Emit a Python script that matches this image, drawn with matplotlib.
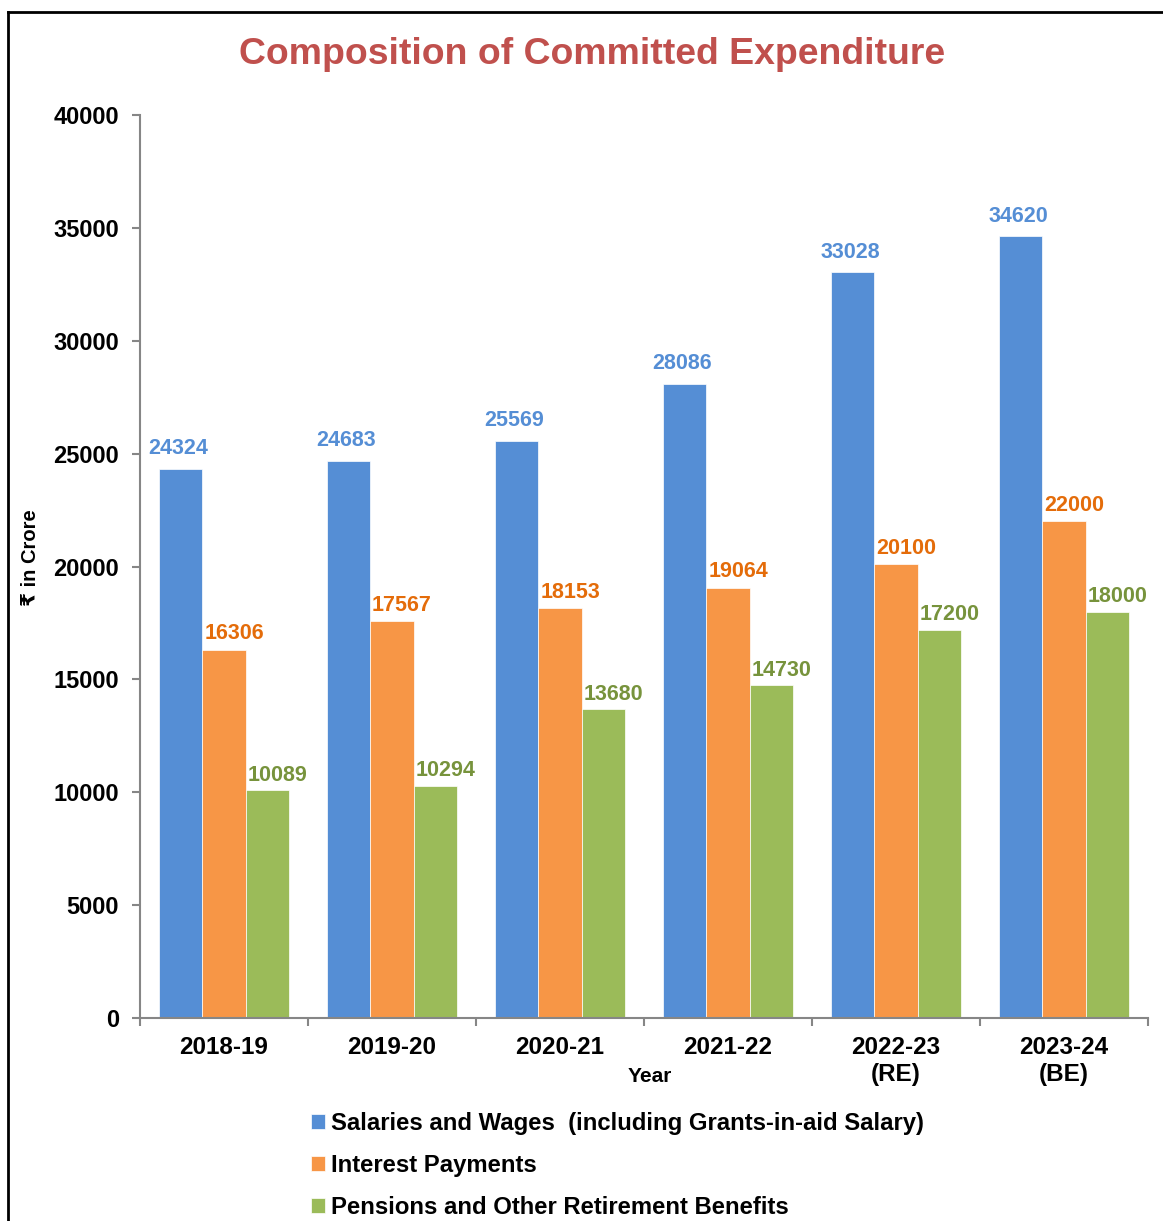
import matplotlib
matplotlib.use("Agg")
import matplotlib.pyplot as plt
import numpy as np
from matplotlib.lines import Line2D
from matplotlib.ticker import FixedLocator

plt.rcParams['font.family'] = ['Liberation Sans', 'DejaVu Sans']
plt.rcParams['font.weight'] = 'bold'

years = ["2018-19", "2019-20", "2020-21", "2021-22", "2022-23\n(RE)", "2023-24\n(BE)"]
salaries = [24324, 24683, 25569, 28086, 33028, 34620]
interest = [16306, 17567, 18153, 19064, 20100, 22000]
pensions = [10089, 10294, 13680, 14730, 17200, 18000]
series_names = ["Salaries and Wages  (including Grants-in-aid Salary)",
                "Interest Payments",
                "Pensions and Other Retirement Benefits"]
yticks = [0, 5000, 10000, 15000, 20000, 25000, 30000, 35000, 40000]

bar_colors = ["#558ED5", "#F79646", "#9BBB59"]
label_colors = ["#558ED5", "#E46C0A", "#77933C"]
# label offsets in pixels (dx, dy) relative to bar top centre
label_offsets = [(-2, 20), (10, 16), (10, 15)]

W, H = 1163, 1221
fig = plt.figure(figsize=(W / 100, H / 100), dpi=100)
ax = fig.add_axes([140 / W, 1 - 1018 / H, (1148 - 140) / W, (1018 - 115) / H])

x = np.arange(len(years))
bw = 0.259
handles = []
for k, (vals, col, lc, name, off) in enumerate(zip([salaries, interest, pensions], bar_colors,
                                                    label_colors, series_names, label_offsets)):
    b = ax.bar(x + (k - 1) * bw, vals, bw, color=col, edgecolor="white", linewidth=0.5, label=name)
    handles.append(b)
    for xi, v in zip(x + (k - 1) * bw, vals):
        ax.annotate(f"{v}", (xi, v), xytext=(off[0] * 0.72, off[1] * 0.72), textcoords="offset points",
                    ha="center", va="center", color=lc, fontsize=15.5, fontweight="bold")

ax.set_xlim(-0.5, 5.5)
ax.set_ylim(0, 40000)
ax.set_yticks(yticks)
ax.set_yticklabels([str(t) for t in yticks], fontsize=17, fontweight="bold")
ax.set_xticks(x)
ax.set_xticklabels(years, fontsize=17.5, fontweight="bold", linespacing=1.2)
ax.xaxis.set_minor_locator(FixedLocator(np.arange(-0.5, 6.0, 1.0)))
ax.tick_params(axis="x", which="major", length=0, pad=13)
ax.tick_params(axis="x", which="minor", length=6, width=1.5, color="#868686", direction="out")
ax.tick_params(axis="y", length=6, width=1.5, color="#868686", pad=9, direction="out")

for s in ["top", "right"]:
    ax.spines[s].set_visible(False)
for s in ["left", "bottom"]:
    ax.spines[s].set_color("#868686")
    ax.spines[s].set_linewidth(1.5)

ax.set_xlabel("Year", fontsize=15, fontweight="bold")
ax.xaxis.set_label_coords((650 - 140) / (1148 - 140), -(1076 - 1018) / (1018 - 115))
ax.xaxis.label.set_va("center")
ax.set_ylabel("₹ in Crore", fontsize=14.5, fontweight="bold")
ax.yaxis.set_label_coords(-(140 - 31) / (1148 - 140), (1018 - 558) / (1018 - 115))
ax.yaxis.label.set_va("center")

fig.text(592 / W, 1 - 55 / H, "Composition of Committed Expenditure", ha="center", va="center",
         fontsize=26.9, fontweight="bold", color="#C0504D")

leg = fig.legend(handles=handles, loc="upper left", bbox_to_anchor=(311 / W, 1 - 1112 / H),
                 frameon=False, fontsize=17.2, handlelength=0.6, handleheight=0.6,
                 handletextpad=0.22, labelspacing=0.8, borderpad=0, borderaxespad=0)
for t in leg.get_texts():
    t.set_fontweight("bold")

fig.add_artist(Line2D([8 / W, 8 / W], [0, 1 - 12 / H], color="black", linewidth=2, transform=fig.transFigure))
fig.add_artist(Line2D([8 / W, 1], [1 - 12 / H, 1 - 12 / H], color="black", linewidth=2, transform=fig.transFigure))

fig.savefig("out.png", dpi=100, facecolor="white")
